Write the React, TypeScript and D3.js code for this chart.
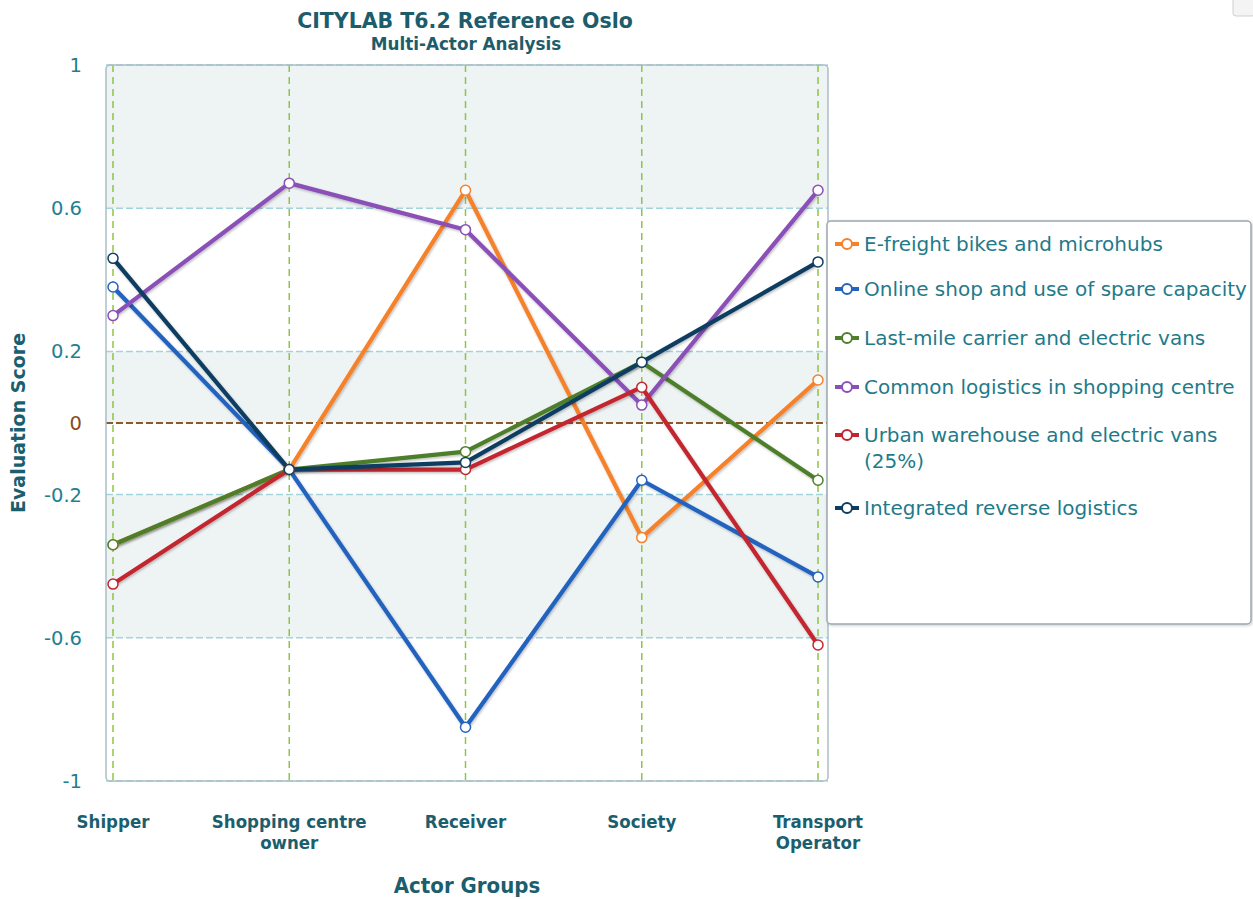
import React from "react";
import * as d3 from "d3";

// Actor groups along the x axis (multi-line labels split on "\n")
const categories = ["Shipper", "Shopping centre owner", "Receiver", "Society", "Transport Operator"];
const categoryLabels = ["Shipper", "Shopping centre\nowner", "Receiver", "Society", "Transport\nOperator"];

// Evaluation scores per scenario, one value per actor group
const eFreightBikes = [-0.34, -0.13, 0.65, -0.32, 0.12];
const onlineShop = [0.38, -0.13, -0.85, -0.16, -0.43];
const lastMileCarrier = [-0.34, -0.13, -0.08, 0.17, -0.16];
const commonLogistics = [0.30, 0.67, 0.54, 0.05, 0.65];
const urbanWarehouse = [-0.45, -0.13, -0.13, 0.10, -0.62];
const reverseLogistics = [0.46, -0.13, -0.11, 0.17, 0.45];

const seriesNames = [
  "E-freight bikes and microhubs",
  "Online shop and use of spare capacity",
  "Last-mile carrier and electric vans",
  "Common logistics in shopping centre",
  "Urban warehouse and electric vans\n(25%)",
  "Integrated reverse logistics",
];
const seriesValues = [eFreightBikes, onlineShop, lastMileCarrier, commonLogistics, urbanWarehouse, reverseLogistics];
const seriesColors = ["#f5822a", "#2463c0", "#4e7f2c", "#8b4fb8", "#c3252f", "#0d3d60"];

// Y axis ticks (bands alternate between consecutive ticks)
const yTicks = [1, 0.6, 0.2, 0, -0.2, -0.6, -1];
const yTickLabels = ["1", "0.6", "0.2", "0", "-0.2", "-0.6", "-1"];

const FONT = "'DejaVu Sans', Verdana, sans-serif";
const FONT_COND = "'DejaVu Sans Condensed', 'DejaVu Sans', Verdana, sans-serif";
const LEFT = 106;
const RIGHT = 828;
const TOP = 65;
const BOTTOM = 781;

export default function App() {
  const y = d3.scaleLinear().domain([-1, 1]).range([BOTTOM, TOP]);
  const x = d3.scalePoint<string>().domain(categories).range([113, 818]);
  const line = d3
    .line<number>()
    .x((_, i) => x(categories[i]) as number)
    .y((v) => y(v));

  const legendY = [244, 289, 338, 387, 435, 508];

  return (
    <svg
      width={1253}
      height={899}
      style={{ position: "absolute", left: 0, top: 0, background: "#fff" }}
    >
      <defs>
        <filter id="shadow" x="-10%" y="-10%" width="120%" height="120%">
          <feDropShadow dx="1" dy="1.5" stdDeviation="1.2" floodColor="#000" floodOpacity="0.25" />
        </filter>
        <filter id="boxShadow" x="-5%" y="-5%" width="110%" height="110%">
          <feDropShadow dx="1" dy="1" stdDeviation="1.5" floodColor="#000" floodOpacity="0.2" />
        </filter>
      </defs>

      {/* Title */}
      <text x={465} y={28} textAnchor="middle" fontFamily={FONT} fontWeight="bold" fontSize={20.5} fill="#1d5c6b">
        CITYLAB T6.2 Reference Oslo
      </text>
      <text x={466} y={50} textAnchor="middle" fontFamily={FONT} fontWeight="bold" fontSize={16.8} fill="#1d5c6b">
        Multi-Actor Analysis
      </text>

      {/* Alternating bands */}
      {yTicks.slice(0, -1).map((t, i) =>
        i % 2 === 0 ? (
          <rect
            key={"band" + i}
            x={LEFT}
            y={y(t)}
            width={RIGHT - LEFT}
            height={y(yTicks[i + 1]) - y(t)}
            fill="#eef3f4"
          />
        ) : null
      )}

      {/* Horizontal grid lines */}
      {yTicks.map((t) =>
        t === 0 ? null : (
          <line
            key={"gy" + t}
            x1={LEFT}
            x2={RIGHT}
            y1={y(t)}
            y2={y(t)}
            stroke="#a3d4dc"
            strokeWidth={1.5}
            strokeDasharray="7,3"
          />
        )
      )}

      {/* Vertical category lines */}
      {categories.map((c) => (
        <line
          key={"gx" + c}
          x1={x(c)}
          x2={x(c)}
          y1={TOP}
          y2={BOTTOM}
          stroke="#8dc63f"
          strokeWidth={1.5}
          strokeDasharray="7,5"
        />
      ))}

      {/* Zero line */}
      <line x1={LEFT} x2={RIGHT} y1={y(0)} y2={y(0)} stroke="#8b5a2b" strokeWidth={2} strokeDasharray="7,3" />

      {/* Plot frame */}
      <rect
        x={LEFT}
        y={TOP}
        width={RIGHT - LEFT}
        height={BOTTOM - TOP}
        rx={4}
        fill="none"
        stroke="#a9bec6"
        strokeWidth={1.5}
      />

      {/* Y tick labels */}
      {yTicks.map((t, i) => (
        <text
          key={"yl" + t}
          x={82}
          y={y(t)}
          dy="0.36em"
          textAnchor="end"
          fontFamily={FONT}
          fontSize={19.5}
          fill={t === 0 ? "#8b4a1e" : "#1f7f91"}
        >
          {yTickLabels[i]}
        </text>
      ))}

      {/* Y axis title */}
      <text
        transform={`translate(25, ${y(0)}) rotate(-90)`}
        textAnchor="middle"
        fontFamily={FONT}
        fontWeight="bold"
        fontSize={19}
        fill="#1b5e6e"
      >
        Evaluation Score
      </text>

      {/* Series lines */}
      {seriesValues.map((vals, s) => (
        <path
          key={"line" + s}
          d={line(vals) as string}
          fill="none"
          stroke={seriesColors[s]}
          strokeWidth={4.2}
          strokeLinejoin="round"
          filter="url(#shadow)"
        />
      ))}

      {/* Series points */}
      {seriesValues.map((vals, s) =>
        vals.map((v, i) => (
          <circle
            key={"pt" + s + "-" + i}
            cx={x(categories[i])}
            cy={y(v)}
            r={5}
            fill="#fff"
            stroke={seriesColors[s]}
            strokeWidth={1.5}
          />
        ))
      )}

      {/* X category labels */}
      {categories.map((c, i) => (
        <text
          key={"xl" + c}
          x={x(c)}
          y={828}
          textAnchor="middle"
          fontFamily={FONT_COND}
          fontWeight="bold"
          fontSize={18.5}
          fill="#1b5e6e"
        >
          {categoryLabels[i].split("\n").map((part, j) => (
            <tspan key={j} x={x(c)} dy={j === 0 ? 0 : 21}>
              {part}
            </tspan>
          ))}
        </text>
      ))}

      {/* X axis title */}
      <text x={467} y={893} textAnchor="middle" fontFamily={FONT_COND} fontWeight="bold" fontSize={22} fill="#1b5e6e">
        Actor Groups
      </text>

      {/* Legend */}
      <rect
        x={827}
        y={221}
        width={424}
        height={403}
        rx={4}
        fill="#fff"
        stroke="#9ba8ae"
        strokeWidth={1.5}
        filter="url(#boxShadow)"
      />
      {seriesNames.map((name, s) => (
        <g key={"lg" + s}>
          <line x1={835} x2={859} y1={legendY[s]} y2={legendY[s]} stroke={seriesColors[s]} strokeWidth={4} />
          <circle cx={847} cy={legendY[s]} r={5} fill="#fff" stroke={seriesColors[s]} strokeWidth={2} />
          <text x={864} y={legendY[s]} fontFamily={FONT} fontSize={20} fill="#1f7a8a">
            {name.split("\n").map((part, j) => (
              <tspan key={j} x={864} dy={j === 0 ? "0.36em" : 26}>
                {part}
              </tspan>
            ))}
          </text>
        </g>
      ))}

      {/* Corner icon */}
      <rect x={1233} y={-4} width={22} height={20} rx={3} fill="#f4f4f4" stroke="#cfcfcf" />
    </svg>
  );
}
